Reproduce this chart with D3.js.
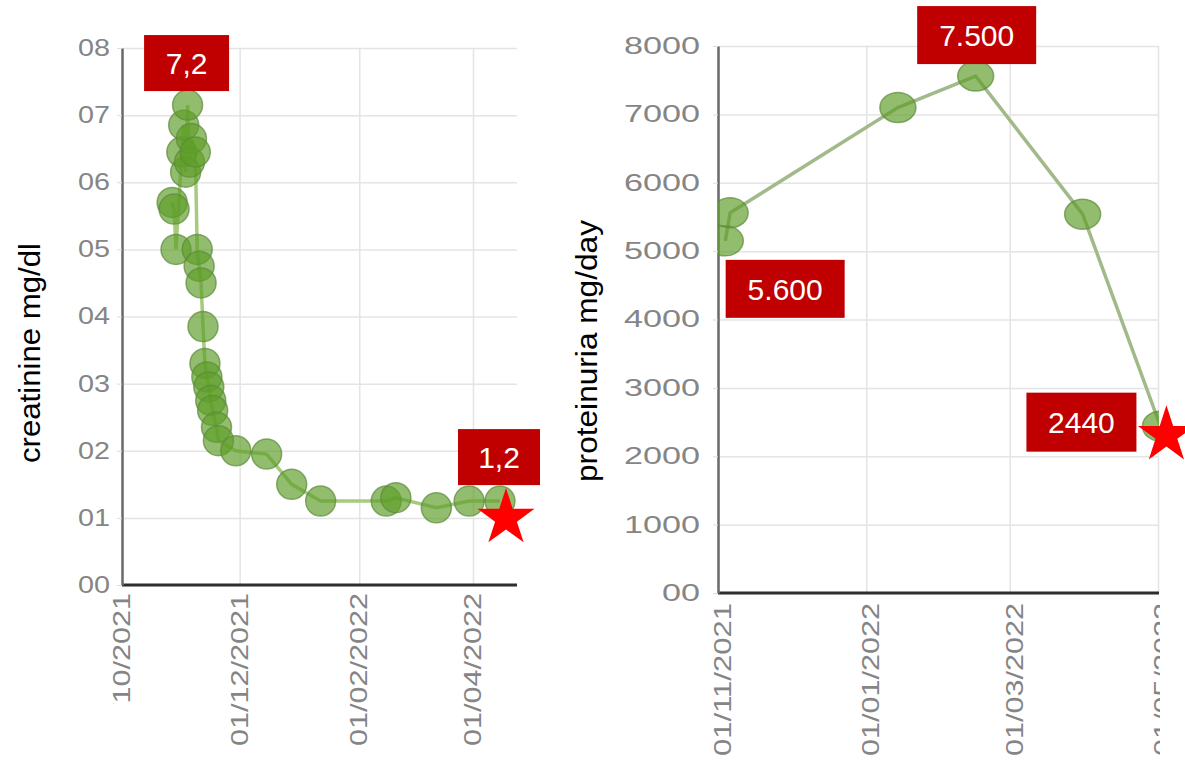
<!DOCTYPE html>
<html>
<head>
<meta charset="utf-8">
<script src="https://cdn.jsdelivr.net/npm/d3@7"></script>
<style>
  html, body { margin: 0; padding: 0; background: #fff; }
  svg { display: block; font-family: "Liberation Sans", Arial, sans-serif; }
</style>
</head>
<body>
<svg id="chart" width="1185" height="763"></svg>
<script>
// creatinine series (mg/dl), dd/mm/yyyy
const creatDates = [
  "27/10/2021", "28/10/2021", "29/10/2021", "01/11/2021", "02/11/2021", "03/11/2021",
  "04/11/2021", "05/11/2021", "06/11/2021", "08/11/2021", "09/11/2021", "10/11/2021",
  "11/11/2021", "12/11/2021", "13/11/2021", "14/11/2021", "15/11/2021", "16/11/2021",
  "17/11/2021", "19/11/2021", "20/11/2021", "29/11/2021", "15/12/2021", "28/12/2021",
  "12/01/2022", "15/02/2022", "20/02/2022", "13/03/2022", "30/03/2022", "15/04/2022"
];
const creatValues = [
  5.7, 5.6, 5.0, 6.45, 6.85, 6.15,
  7.15, 6.3, 6.65, 6.45, 5.0, 4.75,
  4.5, 3.85, 3.3, 3.1, 2.95, 2.75,
  2.6, 2.35, 2.15, 2.0, 1.95, 1.5,
  1.25, 1.25, 1.3, 1.15, 1.25, 1.25
];
const creatTicks = [0, 1, 2, 3, 4, 5, 6, 7, 8];
const creatDateTicks = ["01/10/2021", "01/12/2021", "01/02/2022", "01/04/2022"];
const creatNotes = [{ text: "7,2", at: 6 }, { text: "1,2", at: 29 }];

// proteinuria series (mg/day)
const protDates = ["04/11/2021", "06/11/2021", "14/01/2022", "15/02/2022", "31/03/2022", "02/05/2022"];
const protValues = [5150, 5560, 7100, 7560, 5540, 2440];
const protTicks = [0, 1000, 2000, 3000, 4000, 5000, 6000, 7000, 8000];
const protDateTicks = ["01/11/2021", "01/01/2022", "01/03/2022", "01/05/2022"];
const protNotes = [{ text: "7.500", at: 3 }, { text: "5.600", at: 1 }, { text: "2440", at: 5 }];

const parse = d3.timeParse("%d/%m/%Y");
const fmt = d3.timeFormat("%d/%m/%Y");
const svg = d3.select("#chart");
const defs = svg.append("defs");

function drawPanel(cfg) {
  const dates = cfg.dates.map(parse);
  const tickDates = cfg.dateTicks.map(parse);
  const x = d3.scaleTime().domain([tickDates[0], tickDates[tickDates.length - 1]]).range(cfg.xr);
  const y = d3.scaleLinear().domain([0, cfg.yTicks[cfg.yTicks.length - 1]]).range(cfg.yr);
  const g = svg.append("g");

  defs.append("clipPath").attr("id", cfg.id + "-plot")
    .append("rect").attr("x", cfg.xr[0]).attr("y", 0)
    .attr("width", cfg.right - cfg.xr[0]).attr("height", cfg.yr[0]);
  defs.append("clipPath").attr("id", cfg.id + "-frame")
    .append("rect").attr("x", 0).attr("y", 0).attr("width", cfg.right + 1).attr("height", 763);

  const frame = g.append("g").attr("clip-path", `url(#${cfg.id}-frame)`);

  // horizontal gridlines
  frame.append("g")
    .attr("transform", `translate(${cfg.xr[0]},0)`)
    .call(d3.axisLeft(y).tickValues(cfg.yTicks).tickSize(-(cfg.right - cfg.xr[0])).tickFormat(""))
    .call(a => a.select(".domain").remove())
    .call(a => a.selectAll("line").attr("stroke", "#e4e4e4").attr("stroke-width", 1.5));

  // vertical gridlines
  frame.append("g")
    .attr("transform", `translate(0,${cfg.yr[1]})`)
    .call(d3.axisTop(x).tickValues(tickDates).tickSize(-(cfg.yr[0] - cfg.yr[1])).tickFormat(""))
    .call(a => a.select(".domain").remove())
    .call(a => a.selectAll("line").attr("stroke", "#e4e4e4").attr("stroke-width", 1.5));

  // y axis
  const yAxis = g.append("g")
    .attr("transform", `translate(${cfg.xr[0]},0)`)
    .call(d3.axisLeft(y).tickValues(cfg.yTicks).tickSize(5).tickSizeOuter(0).tickFormat(cfg.yFormat));
  yAxis.select(".domain").attr("stroke", "#6a6a6a").attr("stroke-width", 2.5);
  yAxis.selectAll(".tick line").attr("stroke", "#dcdcdc");
  yAxis.selectAll(".tick text")
    .attr("x", -cfg.yGap)
    .attr("fill", "#858585")
    .attr("font-size", 23)
    .attr("font-family", "Liberation Sans, Arial, sans-serif")
    .attr("textLength", d => cfg.yFormat(d).length * cfg.yCharW)
    .attr("lengthAdjust", "spacingAndGlyphs");

  // x axis
  const xAxis = frame.append("g")
    .attr("transform", `translate(0,${cfg.yr[0]})`)
    .call(d3.axisBottom(x).tickValues(tickDates).tickSize(0).tickSizeOuter(0).tickFormat(fmt));
  xAxis.select(".domain").remove();
  xAxis.selectAll(".tick text")
    .attr("transform", "rotate(-90)")
    .attr("x", -cfg.xGap).attr("y", cfg.xShift).attr("dy", "0.35em")
    .attr("text-anchor", "end")
    .attr("fill", "#858585")
    .attr("font-size", 24)
    .attr("font-family", "Liberation Sans, Arial, sans-serif")
    .attr("textLength", 153)
    .attr("lengthAdjust", "spacingAndGlyphs");
  if (cfg.firstLabelCut) {
    defs.append("clipPath").attr("id", cfg.id + "-cut")
      .append("rect").attr("x", -20).attr("y", -5).attr("width", 40).attr("height", cfg.firstLabelCut);
    xAxis.select(".tick").attr("clip-path", `url(#${cfg.id}-cut)`);
  }
  frame.append("line")
    .attr("x1", cfg.xr[0]).attr("x2", cfg.right)
    .attr("y1", cfg.yr[0]).attr("y2", cfg.yr[0])
    .attr("stroke", "#2e2e2e").attr("stroke-width", 3);

  // axis title
  g.append("text")
    .attr("transform", `translate(${cfg.titleX},${cfg.titleY}) rotate(-90)`)
    .attr("text-anchor", "middle")
    .attr("font-size", 30)
    .attr("fill", "#000")
    .attr("textLength", cfg.titleLen)
    .attr("lengthAdjust", "spacingAndGlyphs")
    .text(cfg.title);

  // series
  const pts = dates.map((d, i) => ({ d, v: cfg.values[i] }));
  const plot = g.append("g").attr("clip-path", `url(#${cfg.id}-plot)`);
  plot.append("path")
    .datum(pts)
    .attr("fill", "none")
    .attr("stroke", cfg.lineColor)
    .attr("stroke-width", 3.5)
    .attr("d", d3.line().x(p => x(p.d)).y(p => y(p.v)));
  plot.selectAll("ellipse")
    .data(pts)
    .join("ellipse")
    .attr("cx", p => x(p.d)).attr("cy", p => y(p.v))
    .attr("rx", cfg.rx).attr("ry", 15)
    .attr("fill", "#5f9e2a").attr("fill-opacity", 0.68)
    .attr("stroke", "#5d8a3a").attr("stroke-opacity", 0.7).attr("stroke-width", 1.5);

  // annotations
  cfg.notes.forEach((n, k) => {
    const off = cfg.noteOffsets[k];
    const cx = x(pts[n.at].d) + off[0];
    const cy = y(pts[n.at].v) + off[1];
    g.append("rect")
      .attr("x", cx - off[2] / 2).attr("y", cy - off[3] / 2)
      .attr("width", off[2]).attr("height", off[3])
      .attr("fill", "#c00000");
    g.append("text")
      .attr("x", cx).attr("y", cy).attr("dy", "0.36em")
      .attr("text-anchor", "middle")
      .attr("font-size", 30)
      .attr("fill", "#fff")
      .text(n.text);
  });

  const last = pts[pts.length - 1];
  g.append("path")
    .attr("transform", `translate(${x(last.d) + cfg.starOff[0]},${y(last.v) + cfg.starOff[1]})`)
    .attr("d", d3.symbol(d3.symbolStar, 30 * 30 / 0.8908130915292852)())
    .attr("fill", "#ff0000");
}

drawPanel({
  id: "creat",
  dates: creatDates, values: creatValues,
  yTicks: creatTicks, dateTicks: creatDateTicks, notes: creatNotes,
  yFormat: d => "0" + d,
  xr: [122, 473], yr: [585, 48], right: 517,
  yGap: 12, yCharW: 16, xGap: 8, xShift: -1,
  firstLabelCut: 124,
  title: "creatinine mg/dl", titleX: 40, titleY: 353, titleLen: 220,
  lineColor: "#a6cb7e", rx: 15,
  noteOffsets: [[-1, -42, 85, 56], [-1, -44, 82, 56]],
  starOff: [6, 17]
});

drawPanel({
  id: "prot",
  dates: protDates, values: protValues,
  yTicks: protTicks, dateTicks: protDateTicks, notes: protNotes,
  yFormat: d => d === 0 ? "00" : String(d),
  xr: [718, 1158], yr: [593, 46], right: 1159,
  yGap: 18, yCharW: 19, xGap: 10, xShift: 4,
  firstLabelCut: 0,
  title: "proteinuria mg/day", titleX: 597, titleY: 351, titleLen: 262,
  lineColor: "#a2b98a", rx: 18,
  noteOffsets: [[1, -41, 119, 58], [55, 76, 119, 58], [-79, -4, 110, 59]],
  starOff: [6, 9]
});
</script>
</body>
</html>
